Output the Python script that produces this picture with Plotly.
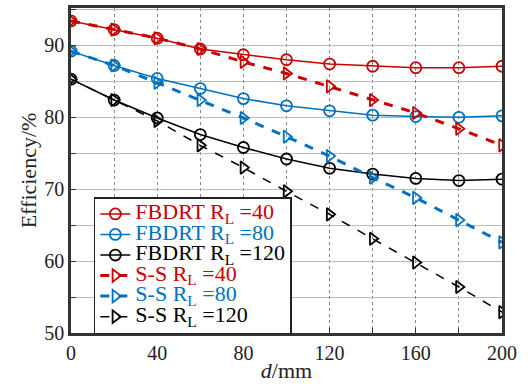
import plotly.graph_objects as go

d = [0, 20, 40, 60, 80, 100, 120, 140, 160, 180, 200]
fbdrt_40 = [93.4, 92.2, 91.0, 89.5, 88.7, 88.0, 87.4, 87.1, 86.9, 86.9, 87.1]
fbdrt_80 = [89.2, 87.2, 85.4, 84.0, 82.6, 81.6, 80.9, 80.3, 80.1, 80.0, 80.2]
fbdrt_120 = [85.3, 82.4, 79.9, 77.6, 75.8, 74.2, 72.9, 72.1, 71.5, 71.2, 71.4]
ss_40 = [93.4, 92.2, 91.0, 89.5, 87.7, 86.1, 84.3, 82.4, 80.6, 78.4, 76.1]
ss_80 = [89.2, 87.2, 84.8, 82.4, 79.9, 77.3, 74.6, 71.6, 68.8, 65.7, 62.6]
ss_120 = [85.3, 82.4, 79.5, 76.1, 73.0, 69.7, 66.5, 63.1, 59.8, 56.4, 52.9]

RED = "#C80000"
BLUE = "#0072BD"
BLACK = "#000000"

series = [
    ("FBDRT R<sub>L</sub> =40", fbdrt_40, RED, "solid", 1.5, "circle-open"),
    ("FBDRT R<sub>L</sub> =80", fbdrt_80, BLUE, "solid", 1.5, "circle-open"),
    ("FBDRT R<sub>L</sub> =120", fbdrt_120, BLACK, "solid", 1.5, "circle-open"),
    ("S-S R<sub>L</sub> =40", ss_40, RED, "dash", 3, "triangle-right-open"),
    ("S-S R<sub>L</sub> =80", ss_80, BLUE, "dash", 3, "triangle-right-open"),
    ("S-S R<sub>L</sub> =120", ss_120, BLACK, "dash", 1.5, "triangle-right-open"),
]

fig = go.Figure()
for name, ys, col, dash, w, sym in series:
    fig.add_trace(go.Scatter(
        x=d, y=ys, mode="lines+markers",
        name=f'<span style="color:{col};font-size:22px">{name}</span>',
        line=dict(color=col, width=w, dash=dash),
        marker=dict(symbol=sym, size=11, color=col, line=dict(width=1.8, color=col)),
    ))

FONT = "Liberation Serif"
fig.update_layout(
    width=529, height=384,
    margin=dict(l=71, r=27, t=5, b=50),
    paper_bgcolor="white", plot_bgcolor="white",
    font=dict(family=FONT, size=20, color="#222"),
    showlegend=True,
    legend=dict(
        x=0.053, y=0.418, xanchor="left", yanchor="top",
        bgcolor="white", bordercolor="#222", borderwidth=1.5,
        font=dict(family=FONT, size=13.5), tracegroupgap=0,
        itemwidth=30,
    ),
    xaxis=dict(
        range=[0, 200], dtick=40, tick0=0,
        showgrid=True, gridcolor="#888", griddash="dot", gridwidth=1,
        minor=dict(dtick=20, showgrid=True, gridcolor="#888", griddash="dot",
                   ticks="inside", ticklen=5, tickcolor="#333"),
        ticks="inside", ticklen=5, tickcolor="#333",
        showline=True, linecolor="#333", linewidth=2.5, mirror=True,
        zeroline=False,
        title=dict(text="<i>d</i>/mm", standoff=0, font=dict(size=22)),
        tickfont=dict(size=20),
    ),
    yaxis=dict(
        range=[50, 95.2], dtick=10, tick0=50,
        showgrid=True, gridcolor="#bbb", gridwidth=1,
        minor=dict(dtick=5, showgrid=True, gridcolor="#bbb",
                   ticks="inside", ticklen=5, tickcolor="#333"),
        ticks="inside", ticklen=5, tickcolor="#333",
        showline=True, linecolor="#333", linewidth=2.5, mirror=True,
        zeroline=False,
        title=dict(text="Efficiency/%", standoff=2, font=dict(size=22)),
        tickfont=dict(size=20),
    ),
)

fig.write_html("out.html", config={"displayModeBar": False},
               post_script="document.body.style.margin='0';")
